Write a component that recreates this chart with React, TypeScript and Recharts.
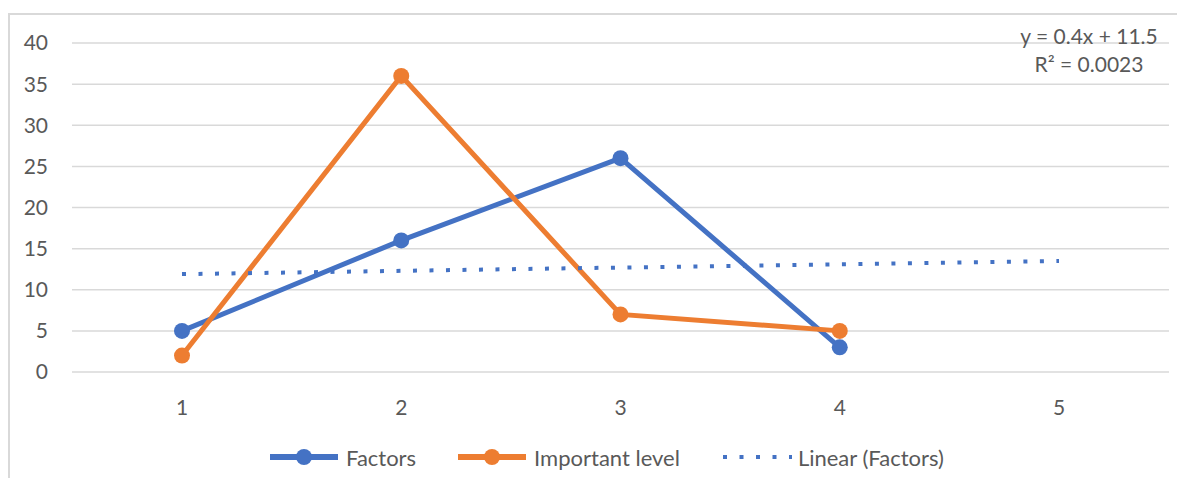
import React from "react";
import {
  LineChart,
  Line,
  XAxis,
  YAxis,
  CartesianGrid,
  Legend,
} from "recharts";

const categories = ["1", "2", "3", "4", "5"];
const factors = [5, 16, 26, 3, null];
const importantLevel = [2, 36, 7, 5, null];
// linear fit of Factors: y = 0.4x + 11.5
const linearFactors = [11.9, 12.3, 12.7, 13.1, 13.5];
const yTicks = [0, 5, 10, 15, 20, 25, 30, 35, 40];

const BLUE = "#4472C4";
const ORANGE = "#ED7D31";
const TEXT = "#595959";
const GRID = "#D9D9D9";
const FONT = "Lato, 'Open Sans', sans-serif";

const chartData = categories.map((c, i) => ({
  x: c,
  factors: factors[i],
  important: importantLevel[i],
  linear: linearFactors[i],
}));

function LegendIcon({ kind, color }: { kind: string; color: string }) {
  if (kind === "dots") {
    return (
      <svg width={70} height={16}>
        <line
          x1={1}
          y1={8}
          x2={70}
          y2={8}
          stroke={color}
          strokeWidth={4}
          strokeDasharray="4 12.5"
        />
      </svg>
    );
  }
  return (
    <svg width={68} height={18}>
      <line x1={0} y1={9} x2={68} y2={9} stroke={color} strokeWidth={6} />
      <circle cx={34} cy={9} r={8} fill={color} />
    </svg>
  );
}

function renderLegend(props: any) {
  const { payload = [] } = props;
  return (
    <div
      style={{
        display: "flex",
        alignItems: "center",
        height: 30,
        paddingLeft: 260,
        fontFamily: FONT,
        fontSize: 22,
        color: TEXT,
      }}
    >
      {payload.map((entry: any, i: number) => (
        <div
          key={entry.value}
          style={{
            display: "flex",
            alignItems: "center",
            marginRight: i < payload.length - 1 ? 42 : 0,
          }}
        >
          <LegendIcon
            kind={entry.dataKey === "linear" ? "dots" : "marker"}
            color={entry.color}
          />
          <span style={{ marginLeft: entry.dataKey === "linear" ? 6 : 8 }}>
            {entry.value}
          </span>
        </div>
      ))}
    </div>
  );
}

export default function App() {
  return (
    <div
      style={{
        width: 1177,
        height: 478,
        marginBottom: -8,
        overflow: "hidden",
        background: "#fff",
      }}
    >
      <div
        style={{
          position: "relative",
          marginTop: 5,
          width: 1200,
          height: 520,
          border: `2px solid ${GRID}`,
        }}
      >
        <LineChart
          width={1175}
          height={480}
          data={chartData}
          margin={{ top: 28, right: 16, left: 0, bottom: 23 }}
        >
          <CartesianGrid vertical={false} stroke={GRID} strokeWidth={1.5} />
          <XAxis
            dataKey="x"
            padding={{ left: 110, right: 110 }}
            axisLine={false}
            tickLine={false}
            height={70}
            tickMargin={22}
            tick={{ fill: TEXT, fontSize: 21, fontFamily: FONT }}
          />
          <YAxis
            width={62}
            domain={[0, 40]}
            ticks={yTicks}
            axisLine={false}
            tickLine={false}
            tickMargin={18}
            tick={{ fill: TEXT, fontSize: 21, fontFamily: FONT }}
          />
          <Legend
            verticalAlign="bottom"
            height={30}
            content={renderLegend}
          />
          <Line
            dataKey="factors"
            name="Factors"
            type="linear"
            stroke={BLUE}
            strokeWidth={5}
            dot={{ r: 8, fill: BLUE, stroke: BLUE, strokeWidth: 0 }}
            activeDot={false}
            isAnimationActive={false}
          />
          <Line
            dataKey="important"
            name="Important level"
            type="linear"
            stroke={ORANGE}
            strokeWidth={5}
            dot={{ r: 8, fill: ORANGE, stroke: ORANGE, strokeWidth: 0 }}
            activeDot={false}
            isAnimationActive={false}
          />
          <Line
            dataKey="linear"
            name="Linear (Factors)"
            type="linear"
            stroke={BLUE}
            strokeWidth={4}
            strokeDasharray="4 12.5"
            dot={false}
            activeDot={false}
            isAnimationActive={false}
          />
        </LineChart>
        <div
          style={{
            position: "absolute",
            left: 1079 - 150,
            top: 7,
            width: 300,
            textAlign: "center",
            fontFamily: FONT,
            fontSize: 21,
            lineHeight: "28px",
            color: TEXT,
          }}
        >
          <div>y = 0.4x + 11.5</div>
          <div>R² = 0.0023</div>
        </div>
      </div>
    </div>
  );
}
